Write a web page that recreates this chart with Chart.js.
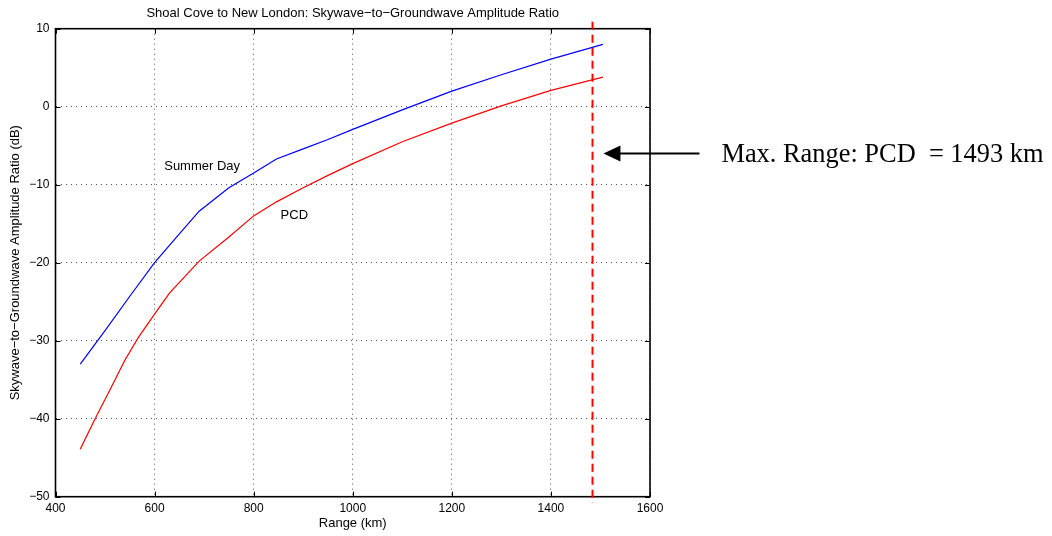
<!DOCTYPE html>
<html><head><meta charset="utf-8">
<script src="https://cdn.jsdelivr.net/npm/chart.js@4/dist/chart.umd.min.js"></script>
<style>html,body{margin:0;padding:0;background:#fff;}#wrap{width:1052px;height:536px;}</style>
</head><body><div id="wrap"><canvas id="c" width="1052" height="536"></canvas></div>
<script>
const summerRange = [450,500,550,600,650,690,750,800,846,900,950,1000,1100,1200,1300,1400,1505];
const summerDay = [-33.0,-28.7,-24.3,-20.0,-16.3,-13.4,-10.4,-8.5,-6.7,-5.4,-4.2,-2.9,-0.4,2.0,4.1,6.1,8.0];
const pcdRange = [450,480,510,540,567,600,630,690,750,800,846,900,950,1000,1100,1200,1300,1400,1505];
const pcd = [-43.9,-40.0,-36.3,-32.5,-29.6,-26.6,-23.9,-19.8,-16.7,-14.0,-12.2,-10.4,-8.8,-7.3,-4.5,-2.1,0.1,2.1,3.8];
const maxRangeX = [1484,1484];
const maxRangeY = [10.9,-50.8];
const xTicks = [400,600,800,1000,1200,1400,1600];
const yTicks = [-50,-40,-30,-20,-10,0,10];
const curveLabels = ['Summer Day','PCD'];
const curveLabelX = [696,882];
const curveLabelY = [-7.6,-13.9];
const arrowY = -6;
const arrowTipX = 1506;
const maxRangeText = 'Max. Range: PCD  = 1493 km';
const titleText = 'Shoal Cove to New London: Skywave\u2212to\u2212Groundwave Amplitude Ratio';
const yTitle = 'Skywave\u2212to\u2212Groundwave Amplitude Ratio (dB)';
const xTitle = 'Range (km)';

const SANS = '"Liberation Sans", Arial, Helvetica, sans-serif';
Chart.defaults.font.family = SANS;
Chart.defaults.font.size = 12;
Chart.defaults.color = '#000';

const fmt = v => v < 0 ? '\u2212' + Math.abs(v) : String(v);
const pts = (xs, ys) => xs.map((x, i) => ({x: x, y: ys[i]}));

const frame = {
  id: 'frame',
  beforeDatasetsDraw(chart) {
    const {ctx, chartArea: a, scales: {x, y}} = chart;
    ctx.save();
    ctx.strokeStyle = '#000';
    ctx.lineWidth = 1;
    ctx.beginPath();
    xTicks.forEach(v => {
      const px = Math.round(x.getPixelForValue(v)) + 0.5;
      ctx.moveTo(px, a.bottom); ctx.lineTo(px, a.bottom - 5);
      ctx.moveTo(px, a.top); ctx.lineTo(px, a.top + 5);
    });
    yTicks.forEach(v => {
      const py = Math.round(y.getPixelForValue(v)) + 0.5;
      ctx.moveTo(a.left, py); ctx.lineTo(a.left + 5, py);
      ctx.moveTo(a.right, py); ctx.lineTo(a.right - 5, py);
    });
    ctx.stroke();
    ctx.lineWidth = 1.6;
    ctx.strokeRect(a.left, a.top, a.right - a.left, a.bottom - a.top);
    ctx.restore();
  },
  afterDatasetsDraw(chart) {
    const {ctx, scales: {x, y}} = chart;
    ctx.save();
    ctx.fillStyle = '#000';
    ctx.font = '13px ' + SANS;
    ctx.textAlign = 'center';
    ctx.textBaseline = 'middle';
    curveLabels.forEach((t, i) => ctx.fillText(t, x.getPixelForValue(curveLabelX[i]), y.getPixelForValue(curveLabelY[i])));
    const ay = y.getPixelForValue(arrowY);
    const tip = x.getPixelForValue(arrowTipX);
    const tail = tip + 96;
    ctx.strokeStyle = '#000';
    ctx.lineWidth = 2;
    ctx.beginPath(); ctx.moveTo(tail, ay); ctx.lineTo(tip + 14, ay); ctx.stroke();
    ctx.beginPath(); ctx.moveTo(tip, ay); ctx.lineTo(tip + 17, ay - 8); ctx.lineTo(tip + 17, ay + 8); ctx.closePath(); ctx.fill();
    ctx.font = '26.4px "Liberation Serif", "Times New Roman", serif';
    ctx.textAlign = 'left';
    ctx.textBaseline = 'alphabetic';
    ctx.fillText(maxRangeText, tail + 22, ay + 8);
    ctx.restore();
  }
};

new Chart(document.getElementById('c'), {
  type: 'scatter',
  data: {
    datasets: [
      {label: 'Summer Day', data: pts(summerRange, summerDay), showLine: true, borderColor: '#0000ff', borderWidth: 1.2, pointRadius: 0, tension: 0, fill: false},
      {label: 'PCD', data: pts(pcdRange, pcd), showLine: true, borderColor: '#ff0000', borderWidth: 1.2, pointRadius: 0, tension: 0, fill: false},
      {label: 'Max. Range', data: pts(maxRangeX, maxRangeY), showLine: true, borderColor: '#ff0000', borderWidth: 2, borderDash: [8, 5], pointRadius: 0, clip: false, fill: false}
    ]
  },
  options: {
    responsive: false,
    animation: false,
    devicePixelRatio: 1,
    layout: {padding: {left: 0, right: 402, top: 2.3, bottom: 0}},
    plugins: {
      legend: {display: false},
      tooltip: {enabled: false},
      title: {display: true, text: titleText, fullSize: false, color: '#000', font: {size: 13, weight: 'normal'}, padding: {top: 3.7, bottom: 7.1}}
    },
    scales: {
      x: {
        type: 'linear', position: 'bottom', min: 400, max: 1600,
        afterBuildTicks: s => { s.ticks = xTicks.map(v => ({value: v})); },
        afterFit: s => { s.height = 39.3; },
        ticks: {padding: 5, color: '#000', font: {size: 12}, callback: fmt, maxRotation: 0, autoSkip: false},
        grid: {color: '#555', lineWidth: 1, drawTicks: false},
        border: {display: false, dash: [1, 4]},
        title: {display: true, text: xTitle, color: '#000', font: {size: 13}, padding: {top: 0, bottom: 4.7}}
      },
      y: {
        type: 'linear', position: 'left', min: -50, max: 10,
        afterBuildTicks: s => { s.ticks = yTicks.map(v => ({value: v})); },
        afterFit: s => { s.width = 55.5; },
        ticks: {padding: 6, color: '#000', font: {size: 12}, callback: fmt, autoSkip: false},
        grid: {color: '#555', lineWidth: 1, drawTicks: false},
        border: {display: false, dash: [1, 4]},
        title: {display: true, text: yTitle, color: '#000', font: {size: 13}, padding: {top: 7.7, bottom: 0}}
      }
    }
  },
  plugins: [frame]
});
</script></body></html>
